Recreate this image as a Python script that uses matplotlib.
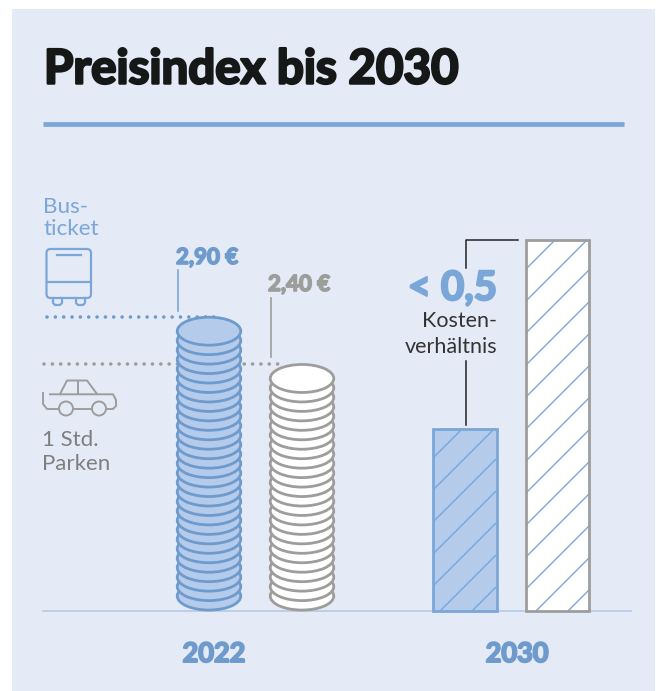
"""Preisindex bis 2030 - Bus ticket vs parking, coin stacks and hatched bars"""
import matplotlib
matplotlib.use('Agg')
import matplotlib.pyplot as plt
import matplotlib.patheffects as pe
from matplotlib.patches import Ellipse, Rectangle, FancyBboxPatch, Circle

plt.rcParams['font.family'] = ['Lato', 'DejaVu Sans']

years = ['2022', '2030']
prices_2022 = [2.90, 2.40]
price_labels = ['2,90 €', '2,40 €']
index_2030 = [1.92, 3.92]
ratio_label = '< 0,5'
coin_value = 0.10

BLUE = '#7BA6D8'
BLUE_DARK = '#6F9BCC'
BLUE_FILL = '#B5CBEB'
GRAY = '#9D9D9C'
BG = '#E4EAF6'
PX_PER_EURO = 94.6
W, H = 661, 691


def heavy(color, width):
    # Lato tops out at bold here, so thicken the outline for the black weight
    return [pe.withStroke(linewidth=width, foreground=color)]


fig = plt.figure(figsize=(W / 100, H / 100), dpi=100, facecolor='white')

# background layer in picture pixels, y pointing down
px = fig.add_axes([0, 0, 1, 1])
px.set_xlim(0, W)
px.set_ylim(H, 0)
px.axis('off')

# chart layer: x in pixels, y in euro above the baseline
ax = fig.add_axes([0, 0, 1, 1], zorder=2)
ax.set_xlim(0, W)
ax.set_ylim((611 - H) / PX_PER_EURO, 611 / PX_PER_EURO)
ax.axis('off')
ax.patch.set_alpha(0)

px.add_patch(Rectangle((12, 9), 643, 682, fc=BG, ec='none'))
px.text(44, 83.5, 'Preisindex bis 2030', fontsize=34.2, fontweight='bold', color='#161817',
        path_effects=heavy('#161817', 1.8))
px.plot([43, 624], [123.5, 123.5], color=BLUE, lw=3.4, solid_capstyle='butt')
px.plot([43, 631], [611, 611], color='#B5C9E6', lw=1.2)

# left labels
px.text(43, 235, 'Bus-\nticket', fontsize=16.2, color=BLUE, linespacing=1.1)
px.text(42, 470, '1 Std.\nParken', fontsize=16, color='#7F7F7F', linespacing=1.26)

# dotted price lines
px.plot([47, 222], [316.5, 316.5], color=BLUE_DARK, lw=2.6, ls=(0, (0.01, 2.3)), dash_capstyle='round')
px.plot([44, 285], [364, 364], color=GRAY, lw=2.6, ls=(0, (0.01, 2.3)), dash_capstyle='round')

# bus icon
px.add_patch(FancyBboxPatch((46.5, 249), 44.5, 49, boxstyle='round,pad=0,rounding_size=4',
                            fc='none', ec=BLUE, lw=1.6))
px.plot([46.5, 91], [281.5, 281.5], color=BLUE, lw=1.6)
px.plot([57, 81], [255, 255], color=BLUE, lw=1.6)
for xw in (53, 76):
    px.plot([xw, xw, xw + 2, xw + 7, xw + 9, xw + 9], [298, 303, 305, 305, 303, 298], color=BLUE, lw=1.6)

# car icon
car_lw = 1.4
px.plot([50, 113, 116, 116, 113, 106], [394.3, 394.3, 400, 406, 409, 409], color=GRAY, lw=car_lw)
px.plot([43, 43, 47, 58], [393, 404, 409, 409], color=GRAY, lw=car_lw)
px.plot([74, 92], [409, 409], color=GRAY, lw=car_lw)
px.plot([60, 67, 87, 97], [394, 380.5, 380.5, 394], color=GRAY, lw=car_lw)
px.plot([78, 78], [380.5, 394], color=GRAY, lw=car_lw)
for xw in (66, 99):
    px.add_patch(Circle((xw, 408.5), 7, fc='none', ec=GRAY, lw=car_lw))

# coin stacks, one coin per ten cent, drawn bottom to top
coin_x = [209, 302]
coin_style = [(BLUE_FILL, BLUE_DARK), ('white', GRAY)]
half = 14 / PX_PER_EURO
for x, price, (fc, ec) in zip(coin_x, prices_2022, coin_style):
    for i in range(round(price / coin_value)):
        ax.add_patch(Ellipse((x, half + 0.01 + i * coin_value), 63.5, 2 * half, fc=fc, ec=ec, lw=2.0))

# price labels and their leaders
px.text(176, 264, price_labels[0], fontsize=16, fontweight='bold', color=BLUE_DARK,
        path_effects=heavy(BLUE_DARK, 1.2))
px.text(268, 291, price_labels[1], fontsize=16, fontweight='bold', color=GRAY,
        path_effects=heavy(GRAY, 1.2))
px.plot([178, 178], [270, 311], color=BLUE, lw=1.2)
px.plot([271, 271], [298, 357], color=GRAY, lw=1.2)

# hatched 2030 bars
bar_left = [433, 526]
bar_width = [64, 63.4]
bar_style = [(BLUE_FILL, BLUE, 2.0), ('white', GRAY, 2.0)]
for left, width, value, (fc, ec, lw) in zip(bar_left, bar_width, index_2030, bar_style):
    bar = ax.bar(left, value, width=width, align='edge', color=fc, linewidth=0)[0]
    for c in range(603, 1300, 32):
        line, = ax.plot([left - 5, left + width + 5], [c - left + 5, c - left - width - 5],
                        transform=px.transData, color=BLUE, lw=1.0)
        line.set_clip_path(bar)
    ax.bar(left, value, width=width, align='edge', fill=False, edgecolor=ec, linewidth=lw, zorder=5)

# ratio callout
px.plot([465.5, 465.5, 518], [268, 239.5, 239.5], color='#222222', lw=1.1)
px.plot([465.5, 465.5], [361, 425], color='#222222', lw=1.1)
px.text(497, 300, ratio_label, fontsize=29, fontweight='bold', color=BLUE, ha='right',
        path_effects=heavy(BLUE, 1.6))
px.text(497, 327, 'Kosten-', fontsize=15.5, color='#333333', ha='right')
px.text(497, 353, 'verhältnis', fontsize=15.5, color='#333333', ha='right')

# year labels
px.text(214, 662, years[0], fontsize=19.5, fontweight='bold', color=BLUE_DARK, ha='center',
        path_effects=heavy(BLUE_DARK, 1.4))
px.text(517, 662, years[1], fontsize=19.5, fontweight='bold', color=BLUE_DARK, ha='center',
        path_effects=heavy(BLUE_DARK, 1.4))

fig.savefig('out.png', dpi=100)
